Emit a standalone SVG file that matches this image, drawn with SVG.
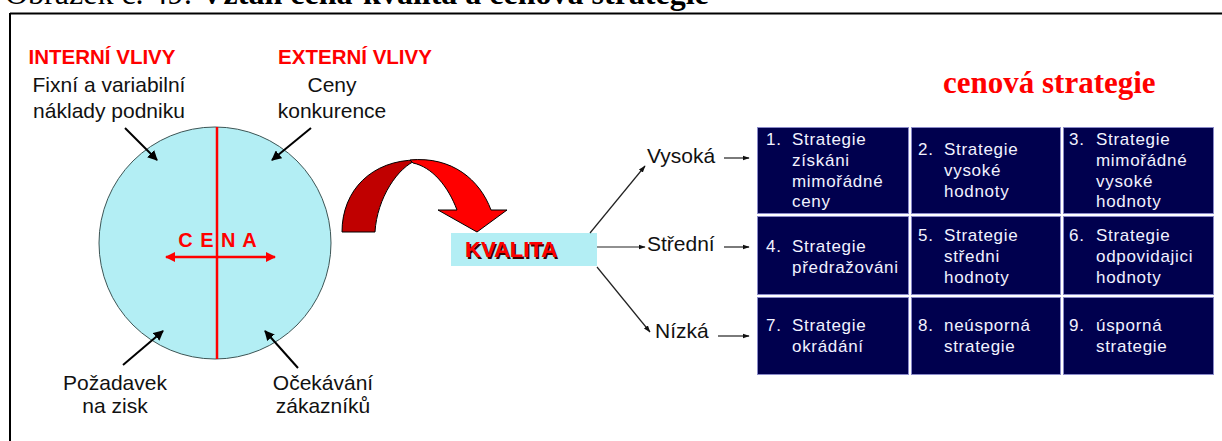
<svg xmlns="http://www.w3.org/2000/svg" width="1222" height="441" viewBox="0 0 1222 441">
  <style>
    .cap { font-family: "Liberation Serif", "Times New Roman", serif; font-size: 32px; fill: #000; }
    .head { font-family: "Liberation Sans", Arial, sans-serif; font-size: 20.5px; font-weight: bold; fill: #ff0000; text-anchor: middle; }
    .lbl { font-family: "Liberation Sans", Arial, sans-serif; font-size: 21px; fill: #111; }
    .mid { text-anchor: middle; }
    .cell { font-family: "Liberation Sans", Arial, sans-serif; font-size: 17px; fill: #f2f2ff; letter-spacing: 0.7px; }
    .box { fill: #00004e; stroke: #8a8ac8; stroke-width: 1; }
    .blk { stroke: #000; stroke-width: 2; fill: none; }
    .thin { stroke: #222; stroke-width: 1.2; fill: none; }
  </style>
  <defs>
    <marker id="ah" viewBox="0 0 10 10" refX="9" refY="5" markerWidth="5" markerHeight="5" orient="auto">
      <path d="M0,0 L10,5 L0,10 Z" fill="#000"/>
    </marker>
    <marker id="ahs" viewBox="0 0 10 10" refX="9" refY="5" markerWidth="6" markerHeight="6" orient="auto">
      <path d="M0,1.5 L10,5 L0,8.5 Z" fill="#111"/>
    </marker>
    <marker id="ahr" viewBox="0 0 10 10" refX="9" refY="5" markerWidth="4" markerHeight="4" orient="auto-start-reverse">
      <path d="M0,0 L10,5 L0,10 Z" fill="#ff0000"/>
    </marker>
  </defs>

  <!-- caption and frame -->
  <text class="cap" x="5" y="4">Obrázek č. 49: <tspan font-weight="bold">Vztah cena-kvalita a cenová strategie</tspan></text>
  <path d="M10,13.5 H1222 M10,13 V441" stroke="#000" stroke-width="2" fill="none"/>

  <!-- price circle -->
  <g id="cena">
    <circle cx="215" cy="243" r="116" fill="#b3eef4" stroke="#3d5555" stroke-width="1"/>
    <line x1="217" y1="127" x2="217" y2="359" stroke="#ff0000" stroke-width="2.5"/>
    <text x="218" y="247" font-family="Liberation Sans, Arial, sans-serif" font-size="20px" font-weight="bold" fill="#ff0000" text-anchor="middle" letter-spacing="1">C E N A</text>
    <line x1="166" y1="257" x2="275" y2="257" stroke="#ff0000" stroke-width="2.5" marker-start="url(#ahr)" marker-end="url(#ahr)"/>
  </g>

  <g id="interni">
    <text class="head" x="102" y="64">INTERNÍ VLIVY</text>
    <text class="lbl mid" x="109" y="92">Fixní a variabilní</text>
    <text class="lbl mid" x="109" y="118">náklady podniku</text>
  </g>
  <g id="externi">
    <text class="head" x="355" y="64">EXTERNÍ VLIVY</text>
    <text class="lbl mid" x="332" y="92">Ceny</text>
    <text class="lbl mid" x="332" y="118">konkurence</text>
  </g>
  <g id="pozadavek">
    <text class="lbl mid" x="115" y="390">Požadavek</text>
    <text class="lbl mid" x="115" y="413">na zisk</text>
  </g>
  <g id="ocekavani">
    <text class="lbl mid" x="323" y="390">Očekávání</text>
    <text class="lbl mid" x="323" y="413">zákazníků</text>
  </g>

  <!-- curved red arrow towards quality -->
  <g id="oblouk" stroke="#000" stroke-width="1" stroke-linejoin="round">
    <path d="M342,232 C342,190 372,160 417,160 C398,167 377,198 375,232 Z" fill="#c00000"/>
    <path d="M410,160 C452,156 480,180 491,210 L507,210 L477,232 L438,210 L457,210 C448,186 432,167 413,163 Z" fill="#ff0000"/>
  </g>

  <g id="kvalita">
    <rect x="451" y="233" width="146" height="33" fill="#b3eef4"/>
    <text x="466.5" y="258.5" font-family="Liberation Sans, Arial, sans-serif" font-size="22px" font-weight="bold" fill="#3a0000">KVALITA</text>
    <text x="465" y="257" font-family="Liberation Sans, Arial, sans-serif" font-size="22px" font-weight="bold" fill="#ff0000">KVALITA</text>
  </g>

  <g id="urovne">
    <text class="lbl" x="647" y="163">Vysoká</text>
    <text class="lbl" x="647" y="251">Střední</text>
    <text class="lbl" x="655" y="338">Nízká</text>
  </g>

  <text id="titul" x="943" y="93" font-family="Liberation Serif, Times New Roman, serif" font-size="31px" font-weight="bold" fill="#ff0000">cenová strategie</text>

  <!-- connectors -->
  <g id="spojnice">
    <line class="blk" x1="125" y1="128" x2="157" y2="160" marker-end="url(#ah)"/>
    <line class="blk" x1="311" y1="128" x2="272" y2="160" marker-end="url(#ah)"/>
    <line class="blk" x1="123" y1="365" x2="163" y2="331" marker-end="url(#ah)"/>
    <line class="blk" x1="298" y1="368" x2="265" y2="331" marker-end="url(#ah)"/>
    <line class="thin" x1="590" y1="233" x2="645" y2="166" marker-end="url(#ahs)"/>
    <line class="thin" x1="597" y1="247" x2="645" y2="247" marker-end="url(#ahs)"/>
    <line class="thin" x1="597" y1="267" x2="650" y2="332" marker-end="url(#ahs)"/>
    <line class="thin" x1="724" y1="158" x2="749" y2="158" marker-end="url(#ahs)"/>
    <line class="thin" x1="724" y1="247" x2="749" y2="247" marker-end="url(#ahs)"/>
    <line class="thin" x1="718" y1="336" x2="749" y2="336" marker-end="url(#ahs)"/>
  </g>

  <!-- strategy matrix -->
  <g id="s1"><rect class="box" x="757.5" y="127.5" width="151" height="86"/>
    <text class="cell" x="766" y="145">1.</text>
    <text class="cell" x="792" y="145">Strategie</text>
    <text class="cell" x="792" y="166">získáni</text>
    <text class="cell" x="792" y="187">mimořádné</text>
    <text class="cell" x="792" y="207">ceny</text></g>
  <g id="s2"><rect class="box" x="911.5" y="127.5" width="149" height="86"/>
    <text class="cell" x="918" y="155">2.</text>
    <text class="cell" x="944" y="155">Strategie</text>
    <text class="cell" x="944" y="176">vysoké</text>
    <text class="cell" x="944" y="197">hodnoty</text></g>
  <g id="s3"><rect class="box" x="1063.5" y="127.5" width="150" height="86"/>
    <text class="cell" x="1069" y="145">3.</text>
    <text class="cell" x="1096" y="145">Strategie</text>
    <text class="cell" x="1096" y="166">mimořádné</text>
    <text class="cell" x="1096" y="187">vysoké</text>
    <text class="cell" x="1096" y="207">hodnoty</text></g>
  <g id="s4"><rect class="box" x="757.5" y="216.5" width="151" height="78"/>
    <text class="cell" x="766" y="252">4.</text>
    <text class="cell" x="792" y="252">Strategie</text>
    <text class="cell" x="792" y="273">předražováni</text></g>
  <g id="s5"><rect class="box" x="911.5" y="216.5" width="149" height="78"/>
    <text class="cell" x="918" y="241">5.</text>
    <text class="cell" x="944" y="241">Strategie</text>
    <text class="cell" x="944" y="262">středni</text>
    <text class="cell" x="944" y="283">hodnoty</text></g>
  <g id="s6"><rect class="box" x="1063.5" y="216.5" width="150" height="78"/>
    <text class="cell" x="1069" y="241">6.</text>
    <text class="cell" x="1096" y="241">Strategie</text>
    <text class="cell" x="1096" y="262">odpovidajici</text>
    <text class="cell" x="1096" y="283">hodnoty</text></g>
  <g id="s7"><rect class="box" x="757.5" y="297.5" width="151" height="77"/>
    <text class="cell" x="766" y="331">7.</text>
    <text class="cell" x="792" y="331">Strategie</text>
    <text class="cell" x="792" y="352">okrádání</text></g>
  <g id="s8"><rect class="box" x="911.5" y="297.5" width="149" height="77"/>
    <text class="cell" x="918" y="331">8.</text>
    <text class="cell" x="944" y="331">neúsporná</text>
    <text class="cell" x="944" y="352">strategie</text></g>
  <g id="s9"><rect class="box" x="1063.5" y="297.5" width="150" height="77"/>
    <text class="cell" x="1069" y="331">9.</text>
    <text class="cell" x="1096" y="331">úsporná</text>
    <text class="cell" x="1096" y="352">strategie</text></g>
</svg>
